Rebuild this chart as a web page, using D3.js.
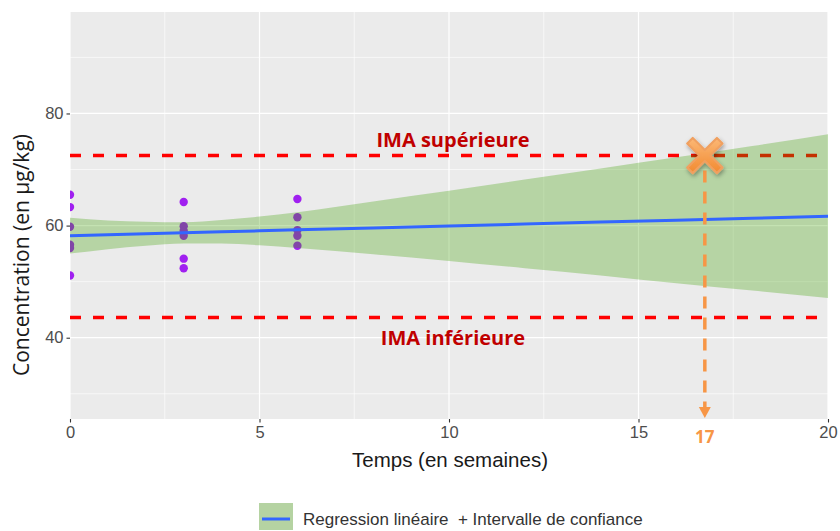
<!DOCTYPE html>
<html>
<head>
<meta charset="utf-8">
<script src="https://cdn.jsdelivr.net/npm/d3@7"></script>
<style>
  body { margin: 0; background: #fff; }
  svg { display: block; }
</style>
</head>
<body>
<svg id="chart" width="840" height="531"></svg>
<script>
// observations : semaine, concentration (µg/kg)
const weeks = [0, 0, 0, 0, 0, 0, 3, 3, 3, 3, 3, 3, 6, 6, 6, 6, 6]
const concentrations = [65.5, 63.3, 59.8, 56.6, 56.0, 51.1,
    64.2, 59.9, 59.1, 58.2, 54.1, 52.4,
    64.75, 61.5, 59.2, 58.2, 56.4]

// droite de regression et intervalle de confiance
const fitX = [0, 1, 2, 3, 4, 5, 6, 8, 10, 12, 14, 16, 18, 20]
const fitY = [58.2, 58.37, 58.55, 58.72, 58.89, 59.06, 59.24, 59.58, 59.93, 60.27, 60.62, 60.96, 61.31, 61.65]
const ciLow = [55.0, 55.8, 56.4, 56.8, 56.8, 56.5, 56.0, 54.9, 53.7, 52.4, 51.1, 49.7, 48.4, 47.1]
const ciHigh = [61.4, 60.9, 60.7, 60.6, 61.0, 61.6, 62.4, 64.3, 66.2, 68.2, 70.2, 72.2, 74.2, 76.3]

const imaHigh = 72.5
const imaLow = 43.6
const crossWeek = 16.75
const crossLabel = '17'

const xTicks = [0, 5, 10, 15, 20]
const xMinor = [2.5, 7.5, 12.5, 17.5]
const yTicks = [40, 60, 80]
const yMinor = [30, 50, 70, 90]

const svg = d3.select('#chart')

const pLeft = 70, pRight = 828, pTop = 12, pBottom = 419

const x = d3.scaleLinear().domain([0, 20]).range([pLeft, pRight])
const y = d3.scaleLinear().domain([25.5, 98.1]).range([pBottom, pTop])

const defs = svg.append('defs')
defs.append('clipPath').attr('id', 'panel-clip')
    .append('rect')
    .attr('x', pLeft).attr('y', pTop)
    .attr('width', pRight - pLeft).attr('height', pBottom - pTop)

let shadow = defs.append('filter').attr('id', 'shadow')
    .attr('x', '-50%').attr('y', '-50%').attr('width', '200%').attr('height', '200%')
shadow.append('feDropShadow')
    .attr('dx', 1).attr('dy', 2).attr('stdDeviation', 2)
    .attr('flood-color', '#000').attr('flood-opacity', 0.35)

let grad = defs.append('linearGradient').attr('id', 'orange-grad')
    .attr('x1', 0).attr('y1', 0).attr('x2', 0).attr('y2', 1)
grad.append('stop').attr('offset', '0%').attr('stop-color', '#fbb876')
grad.append('stop').attr('offset', '100%').attr('stop-color', '#f28a30')

// panel
svg.append('rect')
    .attr('x', pLeft).attr('y', pTop)
    .attr('width', pRight - pLeft).attr('height', pBottom - pTop)
    .attr('fill', '#ebebeb')

let grid = svg.append('g').attr('class', 'grid')
grid.selectAll('.ymin').data(yMinor).enter().append('line')
    .attr('x1', pLeft).attr('x2', pRight)
    .attr('y1', d => y(d)).attr('y2', d => y(d))
    .attr('stroke', '#fff').attr('stroke-width', 0.6)
grid.selectAll('.xmin').data(xMinor).enter().append('line')
    .attr('y1', pTop).attr('y2', pBottom)
    .attr('x1', d => x(d)).attr('x2', d => x(d))
    .attr('stroke', '#fff').attr('stroke-width', 0.6)
grid.selectAll('.ymaj').data(yTicks).enter().append('line')
    .attr('x1', pLeft).attr('x2', pRight)
    .attr('y1', d => y(d)).attr('y2', d => y(d))
    .attr('stroke', '#fff').attr('stroke-width', 1.2)
grid.selectAll('.xmaj').data(xTicks).enter().append('line')
    .attr('y1', pTop).attr('y2', pBottom)
    .attr('x1', d => x(d)).attr('x2', d => x(d))
    .attr('stroke', '#fff').attr('stroke-width', 1.2)

let plot = svg.append('g').attr('clip-path', 'url(#panel-clip)')

// IMA lines
plot.selectAll('.ima').data([imaHigh, imaLow]).enter().append('line')
    .attr('class', 'ima')
    .attr('x1', pLeft).attr('x2', pRight)
    .attr('y1', d => y(d)).attr('y2', d => y(d))
    .attr('stroke', '#ff0000')
    .attr('stroke-width', 3.5)
    .attr('stroke-dasharray', '11 12')

// points
plot.selectAll('circle')
    .data(weeks.map((w, i) => ({ w: w, c: concentrations[i] })))
    .enter().append('circle')
    .attr('cx', d => x(d.w))
    .attr('cy', d => y(d.c))
    .attr('r', 4.2)
    .attr('fill', '#a020f0')

// confidence band
const band = fitX.map((v, i) => ({ x: v, lo: ciLow[i], hi: ciHigh[i], fit: fitY[i] }))
let area = d3.area()
    .x(d => x(d.x))
    .y0(d => y(d.lo))
    .y1(d => y(d.hi))
    .curve(d3.curveMonotoneX)
plot.append('path')
    .datum(band)
    .attr('d', area)
    .attr('fill', 'rgb(58,158,0)')
    .attr('fill-opacity', 0.3)

let line = d3.line()
    .x(d => x(d.x))
    .y(d => y(d.fit))
plot.append('path')
    .datum(band)
    .attr('d', line)
    .attr('fill', 'none')
    .attr('stroke', '#3366ff')
    .attr('stroke-width', 3)

// axes
let yAxis = svg.append('g')
    .attr('transform', 'translate(' + pLeft + ',0)')
    .call(d3.axisLeft(y).tickValues(yTicks).tickSize(3.5).tickPadding(3))
yAxis.select('.domain').remove()
yAxis.selectAll('line').attr('stroke', '#333').attr('stroke-width', 1.1)
yAxis.selectAll('text')
    .style('font-family', 'Liberation Sans, Arial, sans-serif')
    .style('font-size', '16.5px')
    .attr('fill', '#4d4d4d')

let xAxis = svg.append('g')
    .attr('transform', 'translate(0,' + pBottom + ')')
    .call(d3.axisBottom(x).tickValues(xTicks).tickSize(3.5).tickPadding(4))
xAxis.select('.domain').remove()
xAxis.selectAll('line').attr('stroke', '#333').attr('stroke-width', 1.1)
xAxis.selectAll('text')
    .style('font-family', 'Liberation Sans, Arial, sans-serif')
    .style('font-size', '16.5px')
    .attr('fill', '#4d4d4d')

svg.append('text')
    .attr('transform', 'translate(29,' + 255 + ') rotate(-90)')
    .attr('text-anchor', 'middle')
    .style('font-family', 'Open Sans, sans-serif')
    .style('font-size', '21px')
    .attr('fill', '#1a1a1a')
    .text('Concentration (en µg/kg)')

svg.append('text')
    .attr('x', 450).attr('y', 467)
    .attr('text-anchor', 'middle')
    .style('font-family', 'Liberation Sans, Arial, sans-serif')
    .style('font-size', '20.5px')
    .attr('fill', '#1a1a1a')
    .text('Temps (en semaines)')

// IMA labels
svg.append('text')
    .attr('x', 453).attr('y', y(imaHigh) - 9)
    .attr('text-anchor', 'middle')
    .style('font-family', 'Open Sans, sans-serif')
    .style('font-weight', '700')
    .style('font-size', '20px')
    .attr('fill', '#c00000')
    .text('IMA supérieure')

svg.append('text')
    .attr('x', 453).attr('y', y(imaLow) + 27)
    .attr('text-anchor', 'middle')
    .style('font-family', 'Open Sans, sans-serif')
    .style('font-weight', '700')
    .style('font-size', '20px')
    .attr('fill', '#c00000')
    .text('IMA inférieure')

// orange annotation
const cx = x(crossWeek), cy = y(imaHigh)
svg.append('line')
    .attr('x1', cx).attr('x2', cx)
    .attr('y1', cy + 15).attr('y2', pBottom - 12)
    .attr('stroke', '#f79646')
    .attr('stroke-width', 3.5)
    .attr('stroke-dasharray', '12 9')

svg.append('path')
    .attr('d', 'M' + (cx - 6) + ',' + (pBottom - 12) + 'L' + (cx + 6) + ',' + (pBottom - 12) + 'L' + cx + ',' + (pBottom - 1) + 'Z')
    .attr('fill', '#f79646')

let cross = svg.append('g')
    .attr('transform', 'translate(' + cx + ',' + cy + ') scale(1.1)')
    .attr('filter', 'url(#shadow)')
cross.append('path')
    .attr('d', 'M-11,-16 L0,-5 L11,-16 L16,-11 L5,0 L16,11 L11,16 L0,5 L-11,16 L-16,11 L-5,0 L-16,-11 Z')
    .attr('fill', 'url(#orange-grad)')
    .attr('stroke', '#f0a060')
    .attr('stroke-width', 2)
    .attr('stroke-linejoin', 'round')

svg.append('text')
    .attr('x', cx).attr('y', 443)
    .attr('text-anchor', 'middle')
    .style('font-family', 'Open Sans, sans-serif')
    .style('font-weight', '700')
    .style('font-size', '17px')
    .attr('fill', '#f79646')
    .text(crossLabel)

// legend
let legend = svg.append('g').attr('transform', 'translate(259,503)')
legend.append('rect')
    .attr('width', 34).attr('height', 27)
    .attr('fill', '#b5d3a2')
legend.append('line')
    .attr('x1', 3).attr('x2', 31)
    .attr('y1', 16).attr('y2', 16)
    .attr('stroke', '#3366ff').attr('stroke-width', 3)
legend.append('text')
    .attr('x', 44).attr('y', 22)
    .style('font-family', 'Liberation Sans, Arial, sans-serif')
    .style('font-size', '17px')
    .style('white-space', 'pre')
    .attr('fill', '#333')
    .text('Regression linéaire  + Intervalle de confiance')
</script>
</body>
</html>
